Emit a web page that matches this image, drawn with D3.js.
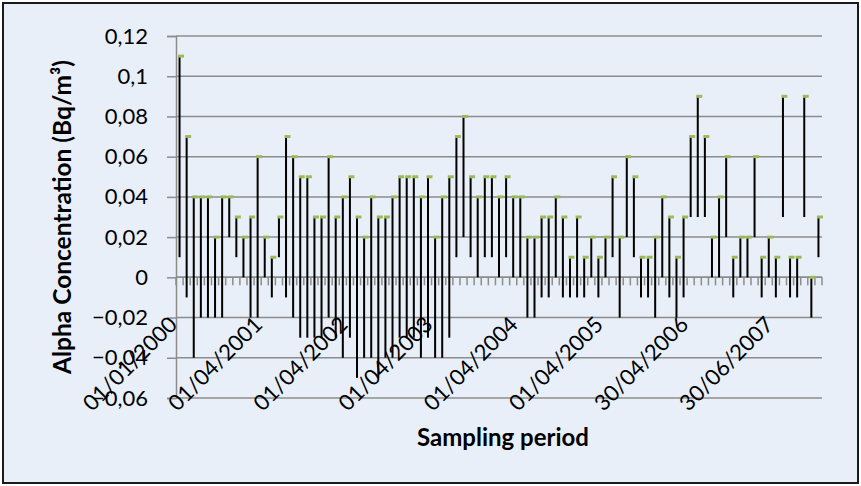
<!DOCTYPE html>
<html>
<head>
<meta charset="utf-8">
<script src="https://cdn.jsdelivr.net/npm/d3@7/dist/d3.min.js"></script>
<style>
  html, body { margin: 0; padding: 0; background: #ffffff; }
  svg { display: block; }
  text { font-family: Lato, "Open Sans", "DejaVu Sans", sans-serif; fill: #000; }
</style>
</head>
<body>
<svg id="chart" width="861" height="486"></svg>
<script>
// Monthly alpha concentration samples: maximum (high) and minimum (low) per sample
const highs = [
  0.11, 0.07, 0.04, 0.04, 0.04, 0.02, 0.04, 0.04, 0.03, 0.02,
  0.03, 0.06, 0.02, 0.01, 0.03, 0.07, 0.06, 0.05, 0.05, 0.03,
  0.03, 0.06, 0.03, 0.04, 0.05, 0.03, 0.02, 0.04, 0.03, 0.03,
  0.04, 0.05, 0.05, 0.05, 0.04, 0.05, 0.02, 0.04, 0.05, 0.07,
  0.08, 0.05, 0.04, 0.05, 0.05, 0.04, 0.05, 0.04, 0.04, 0.02,
  0.02, 0.03, 0.03, 0.04, 0.03, 0.01, 0.03, 0.01, 0.02, 0.01,
  0.02, 0.05, 0.02, 0.06, 0.05, 0.01, 0.01, 0.02, 0.04, 0.03,
  0.01, 0.03, 0.07, 0.09, 0.07, 0.02, 0.04, 0.06, 0.01, 0.02,
  0.02, 0.06, 0.01, 0.02, 0.01, 0.09, 0.01, 0.01, 0.09, 0.00,
  0.03
];
const lows = [
  0.01, -0.01, -0.04, -0.02, -0.02, -0.02, -0.02, 0.02, 0.01, 0.00,
  -0.02, -0.02, 0.00, -0.01, 0.01, -0.01, -0.02, -0.03, -0.03, -0.03,
  -0.03, -0.02, -0.03, -0.04, -0.03, -0.05, -0.04, -0.04, -0.05, -0.04,
  -0.04, -0.03, -0.03, -0.03, -0.04, -0.03, -0.04, -0.04, -0.03, 0.01,
  0.02, 0.01, 0.00, 0.01, 0.01, 0.00, 0.01, 0.00, 0.00, -0.02,
  -0.02, -0.01, -0.01, 0.00, -0.01, -0.01, -0.01, -0.01, 0.00, -0.01,
  0.00, 0.01, -0.02, 0.02, 0.01, -0.01, -0.01, -0.02, 0.00, -0.01,
  -0.02, -0.01, 0.03, 0.03, 0.03, 0.00, 0.00, 0.02, -0.01, 0.00,
  0.00, 0.02, -0.01, 0.00, -0.01, 0.03, -0.01, -0.01, 0.03, -0.02,
  0.01
];
// Sample positions along the category axis
const samples = d3.range(highs.length);
// Category labels shown on the axis (every 12th sample)
const tickIndex = [0, 12, 24, 36, 48, 60, 72, 84];
const tickLabels = ["01/01/2000", "01/04/2001", "01/04/2002", "01/04/2003",
                    "01/04/2004", "01/04/2005", "30/04/2006", "30/06/2007"];
const yTicks = [-0.06, -0.04, -0.02, 0, 0.02, 0.04, 0.06, 0.08, 0.1, 0.12];

const svg = d3.select("#chart");
const W = 861, H = 486;
const plot = { left: 176, right: 822, top: 36, bottom: 398 };

// chart background and frame
svg.append("rect").attr("x", 0).attr("y", 0).attr("width", W).attr("height", H).attr("fill", "#ffffff");
svg.append("rect").attr("x", 3).attr("y", 3).attr("width", W - 6).attr("height", H - 6)
  .attr("fill", "#e8eff8").attr("stroke", "#1a1a1a").attr("stroke-width", 2);

const x = d3.scaleBand().domain(samples).range([plot.left, plot.right]).paddingInner(0).paddingOuter(0);
const y = d3.scaleLinear().domain([-0.06, 0.12]).range([plot.bottom, plot.top]);
const fmt = v => (v === 0 ? "0" : d3.format("")(+v.toFixed(2))).replace(".", ",");

// horizontal gridlines
svg.append("g").selectAll("line").data(yTicks).join("line")
  .attr("x1", plot.left).attr("x2", plot.right)
  .attr("y1", d => y(d)).attr("y2", d => y(d))
  .attr("stroke", "#8c8c8c").attr("stroke-width", 1.5);

// value axis
const yAxis = d3.axisLeft(y).tickValues(yTicks).tickFormat(fmt).tickSize(9).tickPadding(19);
const gy = svg.append("g").attr("transform", `translate(${plot.left},0)`).call(yAxis);
gy.select(".domain").attr("stroke", "#8c8c8c").attr("stroke-width", 1.5);
gy.selectAll(".tick line").attr("stroke", "#8c8c8c").attr("stroke-width", 1.5);
gy.selectAll(".tick text").attr("font-size", 22).attr("font-family", "Lato, sans-serif").attr("fill", "#000");

// category axis crossing at zero, with a tick between every sample
const gx = svg.append("g").attr("transform", `translate(0,${y(0)})`);
gx.append("line").attr("x1", plot.left).attr("x2", plot.right)
  .attr("stroke", "#8c8c8c").attr("stroke-width", 1.5);
gx.selectAll("line.tk").data(d3.range(samples.length + 1)).join("line").attr("class", "tk")
  .attr("x1", i => plot.left + i * x.bandwidth()).attr("x2", i => plot.left + i * x.bandwidth())
  .attr("y1", 0).attr("y2", 8).attr("stroke", "#8c8c8c").attr("stroke-width", 1.5);

// high-low lines
svg.append("g").selectAll("line").data(samples).join("line")
  .attr("x1", i => x(i) + x.bandwidth() / 2).attr("x2", i => x(i) + x.bandwidth() / 2)
  .attr("y1", i => y(highs[i])).attr("y2", i => y(lows[i]))
  .attr("stroke", "#000").attr("stroke-width", 2);

// markers at the high value
svg.append("g").selectAll("rect").data(samples).join("rect")
  .attr("x", i => x(i) + x.bandwidth() / 2 - 1.5).attr("y", i => y(highs[i]) - 1.5)
  .attr("width", 6).attr("height", 3).attr("fill", "#9bbb59");

// rotated category labels
svg.append("g").selectAll("text").data(tickIndex).join("text")
  .attr("transform", i => `translate(${x(i) + x.bandwidth() / 2 - 1},${326}) rotate(-45)`)
  .attr("text-anchor", "end").attr("font-size", 22)
  .text((d, k) => tickLabels[k]);

// axis titles
svg.append("text").attr("transform", `translate(71,${(plot.top + plot.bottom) / 2}) rotate(-90)`)
  .attr("text-anchor", "middle").attr("font-size", 24.5).attr("font-weight", "bold")
  .text("Alpha Concentration (Bq/m³)");
svg.append("text").attr("x", (plot.left + plot.right) / 2 + 4).attr("y", 446)
  .attr("text-anchor", "middle").attr("font-size", 24).attr("font-weight", "bold")
  .text("Sampling period");
</script>
</body>
</html>
